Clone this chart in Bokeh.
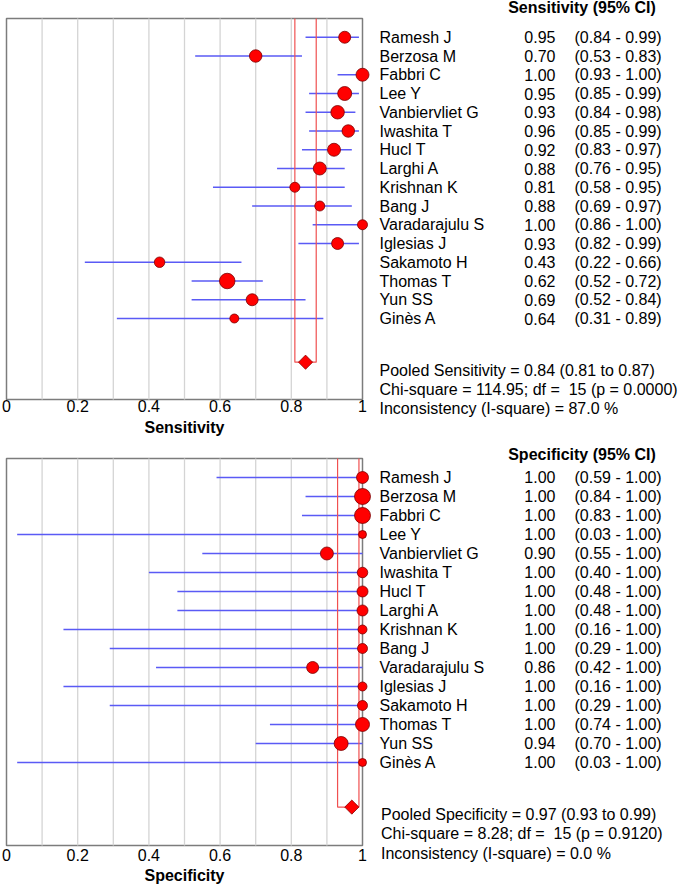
import math
from bokeh.plotting import figure
from bokeh.models import Range1d, FixedTicker, BoxAnnotation, ColumnDataSource
from bokeh.layouts import column
from bokeh.core.properties import value
from bokeh.embed import file_html
from bokeh.resources import INLINE

# ---------------- data ----------------
studies = ["Ramesh J", "Berzosa M", "Fabbri C", "Lee Y", "Vanbiervliet G", "Iwashita T",
           "Hucl T", "Larghi A", "Krishnan K", "Bang J", "Varadarajulu S", "Iglesias J",
           "Sakamoto H", "Thomas T", "Yun SS", "Ginès A"]

sens = [0.95, 0.70, 1.00, 0.95, 0.93, 0.96, 0.92, 0.88, 0.81, 0.88, 1.00, 0.93, 0.43, 0.62, 0.69, 0.64]
sens_lo = [0.84, 0.53, 0.93, 0.85, 0.84, 0.85, 0.83, 0.76, 0.58, 0.69, 0.86, 0.82, 0.22, 0.52, 0.52, 0.31]
sens_hi = [0.99, 0.83, 1.00, 0.99, 0.98, 0.99, 0.97, 0.95, 0.95, 0.97, 1.00, 0.99, 0.66, 0.72, 0.84, 0.89]
sens_weight = [12, 12.5, 13, 14, 13.5, 12.5, 13, 13, 10, 10, 10, 12, 10.5, 15.5, 12, 9]

spec = [1.00, 1.00, 1.00, 1.00, 0.90, 1.00, 1.00, 1.00, 1.00, 1.00, 0.86, 1.00, 1.00, 1.00, 0.94, 1.00]
spec_lo = [0.59, 0.84, 0.83, 0.03, 0.55, 0.40, 0.48, 0.48, 0.16, 0.29, 0.42, 0.16, 0.29, 0.74, 0.70, 0.03]
spec_hi = [1.00] * 16
spec_weight = [12, 16, 16, 8, 13, 10.5, 11, 11, 9, 10, 12, 9, 10, 14, 14, 8]

sens_pooled, sens_pooled_lo, sens_pooled_hi = 0.84, 0.81, 0.87
sens_chi2, sens_df, sens_p, sens_i2 = "114.95", 15, "0.0000", "87.0"
spec_pooled, spec_pooled_lo, spec_pooled_hi = 0.97, 0.93, 0.99
spec_chi2, spec_df, spec_p, spec_i2 = "8.28", 15, "0.9120", "0.0"

xtick_vals = [0, 0.2, 0.4, 0.6, 0.8, 1]
xtick_labels = ["0", "0.2", "0.4", "0.6", "0.8", "1"]
grid_vals = [0.1, 0.2, 0.3, 0.4, 0.5, 0.6, 0.7, 0.8, 0.9]

# ---------------- layout constants ----------------
FONT = "Liberation Sans"
FS = "16px"
W = 685
PX = 356.0                 # pixels per x unit
X0 = -6 / PX
X1 = X0 + W / PX


def xpx(page_px):
    return X0 + page_px / PX


NAME_X, VAL_X, CI_X, HEAD_X = xpx(379), xpx(555), xpx(574), xpx(581.5)


def make_panel(header, axis_label, est, lo, hi, weights, pooled, plo, phi, stats,
               y_max, box_h, top_b, fig_h, header_y, stats_y, pooled_y, standoff,
               label_standoff, stats_x):
    ppu = box_h / y_max
    y_top = -top_b / ppu
    y_bot = (fig_h - top_b) / ppu
    p = figure(title=None, frame_width=W, frame_height=fig_h,
               min_border_left=0, min_border_right=0, min_border_top=0, min_border_bottom=0,
               x_range=Range1d(X0, X1), y_range=Range1d(y_bot, y_top),
               y_axis_location=None, toolbar_location=None,
               output_backend="svg", outline_line_color=None)
    p.grid.visible = False

    ax = p.xaxis[0]
    ax.fixed_location = y_max
    ax.bounds = (0, 1)
    ax.ticker = FixedTicker(ticks=xtick_vals)
    ax.major_label_overrides = dict(zip(xtick_vals, xtick_labels))
    ax.axis_line_color = None
    ax.major_tick_line_color = None
    ax.minor_tick_line_color = None
    ax.major_tick_out = 0
    ax.major_tick_in = 0
    ax.minor_tick_out = 0
    ax.major_label_standoff = standoff
    ax.major_label_text_font = FONT
    ax.major_label_text_font_size = FS
    ax.major_label_text_color = "black"
    ax.axis_label = axis_label
    ax.axis_label_text_font = FONT
    ax.axis_label_text_font_size = FS
    ax.axis_label_text_font_style = "bold"
    ax.axis_label_text_color = "black"
    ax.axis_label_standoff = label_standoff

    # vertical grid lines inside the plot box
    p.segment(x0=grid_vals, y0=[0] * len(grid_vals), x1=grid_vals, y1=[y_max] * len(grid_vals),
              line_color="#d4d4d4", line_width=1.3)

    box = BoxAnnotation(left=0, right=1, top=0, bottom=y_max, fill_alpha=0, line_alpha=1,
                        line_color="#7c7c7c", line_width=1.5, level="underlay")
    p.add_layout(box)

    rows = list(range(1, len(est) + 1))
    src = ColumnDataSource(dict(y=rows, est=est, lo=lo, hi=hi, size=weights))
    p.segment(x0="lo", y0="y", x1="hi", y1="y", source=src,
              line_color="#5a5af5", line_width=1.6)

    # pooled CI bracket
    p.line(x=[plo, plo, phi, phi], y=[0, pooled_y, pooled_y, 0],
           line_color="#f05050", line_width=1.2)

    p.scatter(x="est", y="y", size="size", source=src, marker="circle",
              fill_color="#ff0000", line_color="#7a0000", line_width=0.8)
    p.scatter(x=[pooled], y=[pooled_y], marker="square", angle=math.pi / 4, size=10,
              fill_color="#ff0000", line_color="#8a0000", line_width=0.8)

    common = dict(text_font=value(FONT), text_font_size=value(FS),
                  text_baseline="middle", text_color="black")
    p.text(x=[HEAD_X], y=[header_y], text=[header], text_align="center",
           text_font_style="bold", **common)
    p.text(x=[NAME_X] * len(rows), y=rows, text=studies, text_align="left", **common)
    p.text(x=[VAL_X] * len(rows), y=rows, text=[f"{e:.2f}" for e in est],
           text_align="right", **common)
    p.text(x=[CI_X] * len(rows), y=rows,
           text=[f"({l:.2f} - {h:.2f})" for l, h in zip(lo, hi)], text_align="left", **common)
    p.text(x=[stats_x] * len(stats), y=stats_y, text=stats, text_align="left", **common)
    return p


sens_stats = [f"Pooled Sensitivity = {sens_pooled:.2f} ({sens_pooled_lo:.2f} to {sens_pooled_hi:.2f})",
              f"Chi-square = {sens_chi2}; df = \u00a0{sens_df} (p = {sens_p})",
              f"Inconsistency (I-square) = {sens_i2} %"]
spec_stats = [f"Pooled Specificity = {spec_pooled:.2f} ({spec_pooled_lo:.2f} to {spec_pooled_hi:.2f})",
              f"Chi-square = {spec_chi2}; df = \u00a0{spec_df} (p = {spec_p})",
              f"Inconsistency (I-square) = {spec_i2} %"]

p1 = make_panel("Sensitivity (95% CI)", "Sensitivity", sens, sens_lo, sens_hi, sens_weight,
                sens_pooled, sens_pooled_lo, sens_pooled_hi, sens_stats,
                y_max=20.32, box_h=381, top_b=18, fig_h=440, header_y=-0.6,
                stats_y=[18.77, 19.79, 20.8], pooled_y=18.33, standoff=0,
                label_standoff=4, stats_x=xpx(379))
p2 = make_panel("Specificity (95% CI)", "Specificity", spec, spec_lo, spec_hi, spec_weight,
                spec_pooled, spec_pooled_lo, spec_pooled_hi, spec_stats,
                y_max=20.37, box_h=387, top_b=18, fig_h=446, header_y=-0.2,
                stats_y=[18.74, 19.74, 20.79], pooled_y=18.35, standoff=3,
                label_standoff=3, stats_x=xpx(380.5))

layout = column(p1, p2)
open("out.html", "w").write(file_html(layout, INLINE))
